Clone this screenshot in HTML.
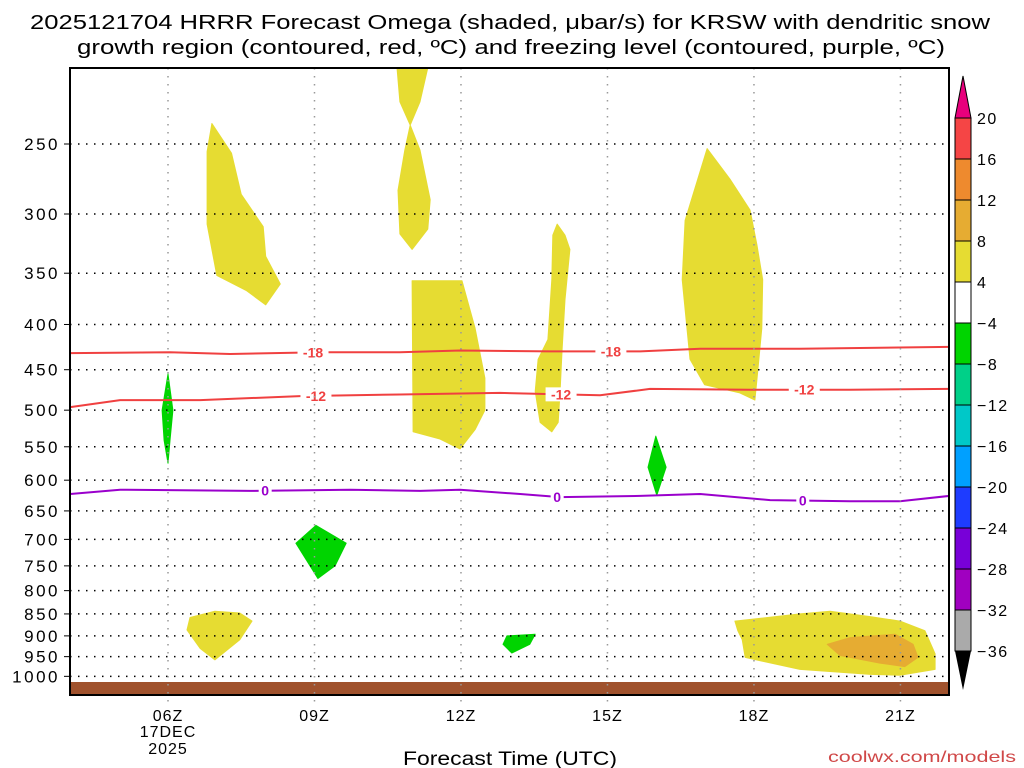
<!DOCTYPE html>
<html><head><meta charset="utf-8"><style>
html,body{margin:0;padding:0;background:#fff;}
svg{display:block;font-family:"Liberation Sans",sans-serif;}
</style></head><body>
<svg id="chart" width="1024" height="768" viewBox="0 0 1024 768">
<rect width="1024" height="768" fill="#fff"/>
<text x="510" y="29" text-anchor="middle" font-size="20" textLength="960" lengthAdjust="spacingAndGlyphs" fill="#000">2025121704 HRRR Forecast Omega (shaded, μbar/s) for KRSW with dendritic snow</text>
<text x="511" y="54" text-anchor="middle" font-size="20" textLength="868" lengthAdjust="spacingAndGlyphs" fill="#000">growth region (contoured, red, ºC) and freezing level (contoured, purple, ºC)</text>
<g id="plot"></g>
<g id="cbar"></g>
<text x="510" y="765" text-anchor="middle" font-size="19" textLength="214" lengthAdjust="spacingAndGlyphs" fill="#000">Forecast Time (UTC)</text>
<text x="1016" y="762" text-anchor="end" font-size="16" textLength="188" lengthAdjust="spacingAndGlyphs" fill="#d04848">coolwx.com/models</text>
</svg>
<script>
// axis & data
const pLevels = [250,300,350,400,450,500,550,600,650,700,750,800,850,900,950,1000];
const hourTicks = [6,9,12,15,18,21];
const hourLabels = ["06Z","09Z","12Z","15Z","18Z","21Z"];
const cbarLevels = [20,16,12,8,4,-4,-8,-12,-16,-20,-24,-28,-32,-36];
const cbarColors = ["#f54545","#ee8a2e","#e6ac32","#e6dc32","#ffffff","#00d400","#00d088","#00c8c8","#00a0ff","#1e3cff","#7800d8","#a000c0","#aaaaaa"];
// shaded omega regions: [hour, pressure] vertices
const yellowA = [[6.9,237],[7.3,256],[7.5,285],[7.95,310],[8.0,335],[8.3,360],[8.0,380],[7.6,366],[7.0,352],[6.8,308],[6.8,255]];
const yellowB = [[10.69,205],[11.32,205],[11.16,224],[10.96,238],[11.16,254],[11.37,289],[11.32,312],[11.0,329],[10.75,316],[10.71,282],[10.85,254],[10.96,238],[10.75,224]];
const yellowC = [[11.0,357],[12.02,357],[12.29,404],[12.49,460],[12.49,500],[12.29,526],[11.98,553],[11.57,539],[11.02,529]];
const yellowD = [[13.97,308],[14.13,317],[14.23,329],[14.13,375],[14.07,427],[14.03,476],[13.99,516],[13.86,529],[13.62,516],[13.52,476],[13.58,438],[13.78,416],[13.86,356],[13.88,317]];
const yellowE = [[17.04,253],[17.51,274],[17.92,297],[18.06,325],[18.18,356],[18.16,404],[18.08,450],[18.02,487],[17.71,478],[16.99,468],[16.69,438],[16.53,356],[16.59,305]];
const yellowF = [[6.45,858],[6.96,844],[7.47,848],[7.72,866],[7.47,909],[6.96,958],[6.66,930],[6.39,886]];
const yellowG = [[17.61,866],[18.94,850],[19.56,844],[20.38,856],[20.99,866],[21.5,888],[21.71,943],[21.71,982],[20.99,997],[20.38,995],[18.94,982],[17.82,952],[17.76,909],[17.67,888]];
const orangeA = [[19.5,920],[19.97,904],[20.89,896],[21.26,920],[21.36,952],[21.09,975],[20.58,966],[19.76,947]];
const greenA = [[6.0,455],[6.1,500],[6.04,541],[6.0,574],[5.92,541],[5.88,500]];
const greenB = [[9.03,675],[9.65,707],[9.42,750],[9.07,775],[8.62,707]];
const greenC = [[15.99,535],[16.2,580],[16.01,624],[15.83,580]];
const greenD = [[12.94,900],[13.52,896],[13.41,920],[13.04,941],[12.86,920]];
// contour lines
const tm18Hours = [4.0,6.04,7.27,9.11,10.75,11.98,13.82,15.67,16.9,18.94,22.0];
const tm18Press = [431,430,432,430,430,428,429,429,426,426,424];
const tm12Hours = [4.0,5.02,6.66,8.7,10.75,12.8,14.85,15.87,17.92,19.97,22.0];
const tm12Press = [496,487,487,482,480,478,481,473,474,474,473];
const t0Hours = [4.0,5.02,7.68,9.73,11.16,11.98,13.21,14.03,15.67,16.9,18.33,19.97,20.99,22.0];
const t0Press = [622,615,617,615,617,615,622,627,625,622,632,634,634,625];
const tm18Labels = [8.97,15.07];
const tm12Labels = [9.03,14.05,19.03];
const t0Labels = [7.99,13.97,19.0];

const L=70,R=949,T=68,B=695;
const X = h => 168 + (h-6)*48.83;
const Y = p => 144 + 384*Math.log(p/250);
const NS="http://www.w3.org/2000/svg";
const plot=document.getElementById('plot');
const cbar=document.getElementById('cbar');
function mk(tag,attrs,parent){const e=document.createElementNS(NS,tag);for(const k in attrs)e.setAttribute(k,attrs[k]);parent.appendChild(e);return e;}

const clip=mk('clipPath',{id:'clp'},plot);
mk('rect',{x:L,y:T,width:R-L,height:B-T},clip);
const inner=mk('g',{'clip-path':'url(#clp)'},plot);

function poly(pts,color,name){
  const e=mk('polygon',{points:pts.map(q=>X(q[0]).toFixed(1)+','+Y(q[1]).toFixed(1)).join(' '),fill:color,stroke:color,'stroke-width':1,'stroke-linejoin':'round'},inner);
  
  
}
poly(yellowA,'#e6dc32','omega-region-yellow-a');
poly(yellowB,'#e6dc32','omega-region-yellow-b');
poly(yellowC,'#e6dc32','omega-region-yellow-c');
poly(yellowD,'#e6dc32','omega-region-yellow-d');
poly(yellowE,'#e6dc32','omega-region-yellow-e');
poly(yellowF,'#e6dc32','omega-region-yellow-f');
poly(yellowG,'#e6dc32','omega-region-yellow-g');
poly(orangeA,'#e6ac32','omega-region-orange-a');
poly(greenA,'#00d400','omega-region-green-a');
poly(greenB,'#00d400','omega-region-green-b');
poly(greenC,'#00d400','omega-region-green-c');
poly(greenD,'#00d400','omega-region-green-d');

// ground
const g=mk('rect',{x:L,y:682,width:R-L,height:B-682,fill:'#a0522d'},inner);



// grid
pLevels.forEach(p=>{
  const y=Y(p);
  const l=mk('line',{x1:L,x2:R,y1:y,y2:y,stroke:'#000','stroke-width':1.5,'stroke-dasharray':'1.5 6.5'},plot);
  
  
  mk('line',{x1:L-6,x2:L,y1:y,y2:y,stroke:'#000','stroke-width':1},plot);
  const t=mk('text',{x:L-10,y:y+6,'text-anchor':'end','font-size':17,'letter-spacing':'2.5',fill:'#000'},plot);
  t.textContent=p;
  
  
});
hourTicks.forEach((h,i)=>{
  const x=X(h);
  const l=mk('line',{x1:x,x2:x,y1:T,y2:B+8,stroke:'#999','stroke-width':1.5,'stroke-dasharray':'1.5 6.5'},plot);
  
  
  const t=mk('text',{x:x,y:721,'text-anchor':'middle','font-size':16,'letter-spacing':'1',fill:'#000'},plot);
  t.textContent=hourLabels[i];
  
  
});
[['17DEC',737],['2025',754]].forEach(d=>{
  const t=mk('text',{x:X(6),y:d[1],'text-anchor':'middle','font-size':16,'letter-spacing':'1',fill:'#000'},plot);
  t.textContent=d[0];
  
  
});

// contours
function contour(hs,ps,color,name,labels,txt){
  const d=hs.map((h,i)=>(i?'L':'M')+X(h).toFixed(1)+','+Y(ps[i]).toFixed(1)).join(' ');
  const e=mk('path',{d:d,fill:'none',stroke:color,'stroke-width':2,'stroke-linejoin':'round'},inner);
  
  
  labels.forEach(h=>{
    let j=1;while(j<hs.length-1&&hs[j]<h)j++;
    const f=(h-hs[j-1])/(hs[j]-hs[j-1]);
    const p=ps[j-1]+f*(ps[j]-ps[j-1]);
    const w=txt.length*9+4;
    mk('rect',{x:X(h)-w/2,y:Y(p)-7,width:w,height:14,fill:'#fff'},inner);
    const t=mk('text',{x:X(h),y:Y(p)+5,'text-anchor':'middle','font-size':14,'font-weight':'bold',fill:color},inner);
    t.textContent=txt;
    
    
  });
}
contour(tm18Hours,tm18Press,'#f04040','contour-minus-18',tm18Labels,'-18');
contour(tm12Hours,tm12Press,'#f04040','contour-minus-12',tm12Labels,'-12');
contour(t0Hours,t0Press,'#9a00cc','freezing-level-0',t0Labels,'0');

const fr=mk('rect',{x:L,y:T,width:R-L,height:B-T,fill:'none',stroke:'#000','stroke-width':2},plot);



// colorbar
const cx0=955,cx1=971,cTop=118,cStep=41;
const up=mk('polygon',{points:`${cx0},${cTop} ${cx1},${cTop} ${(cx0+cx1)/2},76`,fill:'#e8007c',stroke:'#000','stroke-width':1},cbar);


cbarColors.forEach((c,i)=>{
  const r=mk('rect',{x:cx0,y:cTop+i*cStep,width:cx1-cx0,height:cStep,fill:c,stroke:'#000','stroke-width':1},cbar);
  
  
});
const yb=cTop+cbarColors.length*cStep;
const dn=mk('polygon',{points:`${cx0},${yb} ${cx1},${yb} ${(cx0+cx1)/2},690`,fill:'#000'},cbar);


cbarLevels.forEach((v,i)=>{
  const t=mk('text',{x:977,y:cTop+i*cStep+6,'font-size':16,'letter-spacing':'1.5',fill:'#000'},cbar);
  t.textContent=v<0?'\u2212'+(-v):String(v);
  
  
});
</script>
</body></html>
